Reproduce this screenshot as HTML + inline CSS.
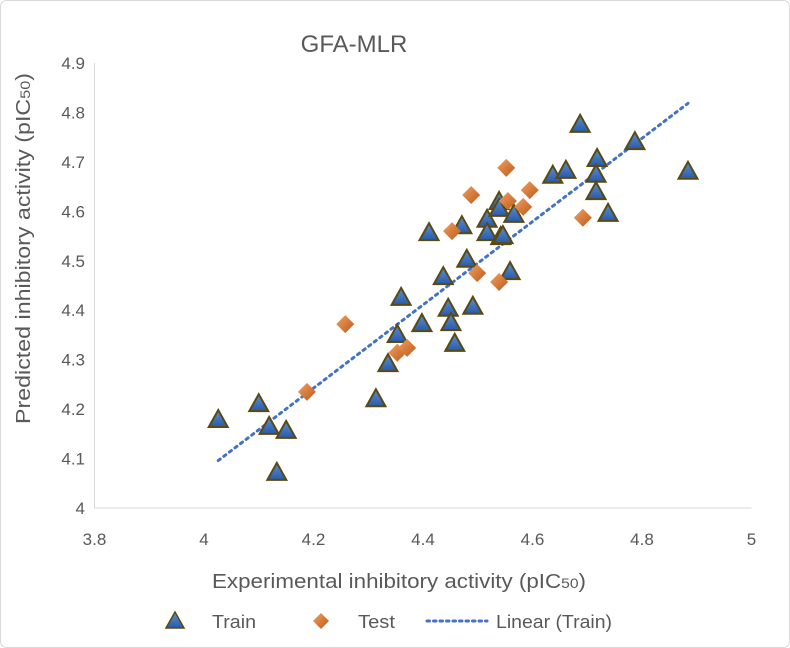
<!DOCTYPE html>
<html><head><meta charset="utf-8"><style>
body{margin:0;background:#fff;}
svg{display:block;font-family:"Liberation Sans",sans-serif;}
</style></head><body>
<svg width="790" height="648" viewBox="0 0 790 648">
<defs>
<linearGradient id="tri" x1="0" y1="0" x2="0" y2="1"><stop offset="0" stop-color="#5b8fd6"/><stop offset="1" stop-color="#2a5aa8"/></linearGradient>
<linearGradient id="dia" x1="0" y1="0" x2="1" y2="1"><stop offset="0" stop-color="#f4a060"/><stop offset="1" stop-color="#b85a1c"/></linearGradient>
</defs>
<rect x="0.5" y="0.5" width="789" height="647" rx="6" fill="#fff" stroke="#d9d9d9"/>
<text x="354" y="52" text-anchor="middle" font-size="24" fill="#595959">GFA-MLR</text>
<g id="axes"></g>
<g id="marks"></g>
<text x="212" y="588" font-size="20" fill="#595959" textLength="374" lengthAdjust="spacingAndGlyphs">Experimental inhibitory activity (pIC<tspan font-size="14">50</tspan>)</text>
<text transform="translate(30,424) rotate(-90)" font-size="20" fill="#595959" textLength="351" lengthAdjust="spacingAndGlyphs">Predicted inhibitory activity (pIC<tspan font-size="14">50</tspan>)</text>
<g>
<g><polygon points="175,612 184,628 166,628" fill="url(#tri)" stroke="#5a4a10" stroke-width="1.5"/><text x="212" y="628" font-size="18" fill="#595959" textLength="44" lengthAdjust="spacingAndGlyphs">Train</text></g>
<g><polygon points="321,613 329,621 321,629 313,621" fill="url(#dia)"/><text x="358" y="628" font-size="18" fill="#595959" textLength="37" lengthAdjust="spacingAndGlyphs">Test</text></g>
<g><line x1="427" y1="621" x2="487" y2="621" stroke="#4472c4" stroke-width="3" stroke-dasharray="2.5 4" stroke-linecap="round"/><text x="496" y="628" font-size="18" fill="#595959" textLength="116" lengthAdjust="spacingAndGlyphs">Linear (Train)</text></g>
</g>
</svg>
<script>
const xTicks=[3.8,4,4.2,4.4,4.6,4.8,5];
const yTicks=[4,4.1,4.2,4.3,4.4,4.5,4.6,4.7,4.8,4.9];
const trainX=[4.026,4.100,4.119,4.150,4.133,4.314,4.336,4.360,4.353,4.398,4.446,4.451,4.458,4.491,4.437,4.480,4.411,4.471,4.517,4.517,4.539,4.539,4.542,4.546,4.566,4.559,4.637,4.661,4.687,4.718,4.716,4.716,4.738,4.787,4.884];
const trainY=[4.178,4.210,4.164,4.156,4.071,4.220,4.291,4.425,4.350,4.372,4.403,4.374,4.332,4.407,4.467,4.502,4.556,4.570,4.583,4.556,4.619,4.605,4.548,4.550,4.593,4.477,4.672,4.682,4.775,4.706,4.674,4.639,4.595,4.740,4.680];
const testX=[4.258,4.188,4.353,4.371,4.453,4.488,4.499,4.539,4.552,4.555,4.583,4.595,4.692];
const testY=[4.372,4.235,4.314,4.324,4.560,4.633,4.475,4.457,4.688,4.621,4.609,4.643,4.587];
const NS="http://www.w3.org/2000/svg";
const X=v=>204+(v-4)*547.5, Y=v=>508-(v-4)*494.4;
function mk(t,a,p){const e=document.createElementNS(NS,t);for(const k in a)e.setAttribute(k,a[k]);p.appendChild(e);return e;}
const axes=document.getElementById('axes'), marks=document.getElementById('marks');
xTicks.forEach(v=>{const t=mk('text',{x:X(v),y:545,'text-anchor':'middle','font-size':17,fill:'#595959'},axes);t.textContent=v;

});
yTicks.forEach(v=>{const t=mk('text',{x:85,y:Y(v)+6,'text-anchor':'end','font-size':17,fill:'#595959'},axes);t.textContent=v;

});
const ax=mk('line',{x1:X(3.8),y1:Y(4),x2:X(5),y2:Y(4),stroke:'#d9d9d9'},axes);


const ay=mk('line',{x1:X(3.8),y1:Y(4),x2:X(3.8),y2:Y(4.9),stroke:'#d9d9d9'},axes);


const n=trainX.length;let sx=0,sy=0,sxx=0,sxy=0;
for(let i=0;i<n;i++){sx+=trainX[i];sy+=trainY[i];sxx+=trainX[i]*trainX[i];sxy+=trainX[i]*trainY[i];}
const b=(n*sxy-sx*sy)/(n*sxx-sx*sx), a=(sy-b*sx)/n;
const x0=Math.min(...trainX), x1=Math.max(...trainX);
const tl=mk('line',{x1:X(x0),y1:Y(a+b*x0),x2:X(x1),y2:Y(a+b*x1),stroke:'#4472c4','stroke-width':3,'stroke-dasharray':'2.5 4.5','stroke-linecap':'round'},marks);


trainX.forEach((v,i)=>{const cx=X(v),cy=Y(trainY[i]);
const p=mk('polygon',{points:`${cx},${cy-10} ${cx+9.5},${cy+7} ${cx-9.5},${cy+7}`,fill:'url(#tri)',stroke:'#5a4a10','stroke-width':2},marks);

});
testX.forEach((v,i)=>{const cx=X(v),cy=Y(testY[i]);
const p=mk('polygon',{points:`${cx},${cy-9} ${cx+9},${cy} ${cx},${cy+9} ${cx-9},${cy}`,fill:'url(#dia)'},marks);

});
</script>
</body></html>
